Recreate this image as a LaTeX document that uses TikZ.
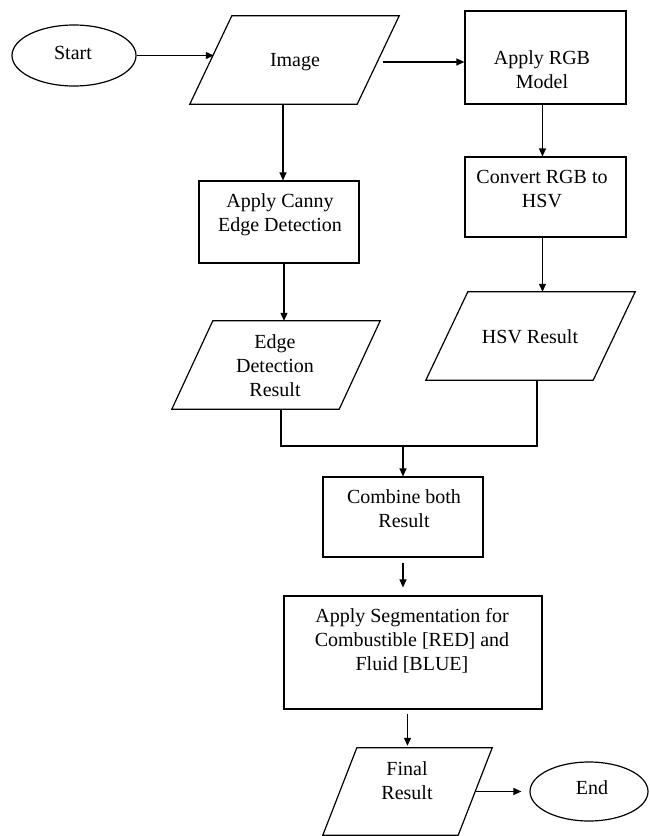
\documentclass[tikz,border=0pt]{standalone}
\usepackage{fontspec}
\setmainfont{Liberation Serif}
\usetikzlibrary{arrows.meta,shapes.geometric,calc}
\begin{document}
\begin{tikzpicture}[x=1pt,y=-1pt,
  ln/.style={line width=1.2pt, draw=black},
  arr/.style={ln, -{Triangle[length=8pt,width=7pt]}},
  box/.style={ln, rectangle, inner sep=0pt},
  oval/.style={ln, ellipse, inner sep=0pt},
  frame/.style={rectangle, inner sep=0pt, draw=none},
  txt/.style={align=center, inner sep=0pt, font=\fontsize{20}{24}\selectfont}]
\useasboundingbox (0,0) rectangle (650,836);

% shapes
\node[oval, minimum width=124pt, minimum height=61pt] (start) at (74,55.5) {};
\node[frame, minimum width=209pt, minimum height=88pt] (img) at (294.5,60) {};
\node[box, minimum width=161pt, minimum height=93pt] (rgb) at (545.5,57.5) {};
\node[box, minimum width=161pt, minimum height=80pt] (conv) at (545.5,197) {};
\node[box, minimum width=160pt, minimum height=82pt] (canny) at (279,222) {};
\node[frame, minimum width=208pt, minimum height=88pt] (edge) at (276,365) {};
\node[frame, minimum width=209pt, minimum height=88pt] (hsv) at (530.5,336) {};
\node[box, minimum width=160pt, minimum height=80pt] (comb) at (403,517) {};
\node[box, minimum width=258pt, minimum height=113pt] (seg) at (413,652.5) {};
\node[frame, minimum width=169pt, minimum height=87pt] (final) at (407.5,791.5) {};
\node[oval, minimum width=118pt, minimum height=59pt] (end) at (589,791.5) {};

% parallelogram outlines
\draw[ln] ([xshift=42pt]img.north west) -- (img.north east) -- ([xshift=-42pt]img.south east) -- (img.south west) -- cycle;
\draw[ln] ([xshift=41pt]edge.north west) -- (edge.north east) -- ([xshift=-41pt]edge.south east) -- (edge.south west) -- cycle;
\draw[ln] ([xshift=42pt]hsv.north west) -- (hsv.north east) -- ([xshift=-42pt]hsv.south east) -- (hsv.south west) -- cycle;
\draw[ln] ([xshift=34pt]final.north west) -- (final.north east) -- ([xshift=-34pt]final.south east) -- (final.south west) -- cycle;

% texts
\node[txt] (startt) at (73,53) {Start};
\node[txt] (imgt) at (295,62) {Image};
\node[txt] (rgbt) at (542,69.5) {Apply RGB\\Model};
\node[txt] (convt) at (542,189.5) {Convert RGB to\\HSV};
\node[txt] (cannyt) at (280,215) {Apply Canny\\Edge Detection};
\node[txt] (edget) at (275,366) {Edge\\Detection\\Result};
\node[txt] (hsvt) at (530,337) {HSV Result};
\node[txt] (combt) at (404,509) {Combine both\\Result};
\node[txt] (segt) at (412,641) {Apply Segmentation for\\Combustible [RED] and\\Fluid [BLUE]};
\node[txt] (finalt) at (407,781) {Final\\Result};
\node[txt] (endt) at (592,788) {End};

% connectors
\coordinate (a1) at ([xshift=24pt]img.west);
\draw[arr] (start.east) -- (start.east -| a1);
\coordinate (a2) at ([xshift=-16pt,yshift=-2pt]img.east);
\draw[arr] (a2) -- (a2 -| rgb.west);
\coordinate (a3) at ([xshift=4pt]canny.north);
\draw[arr] (a3 |- img.south) -- (a3);
\draw[arr] ([xshift=-3pt]rgb.south) -- ([xshift=-3pt]conv.north);
\coordinate (a4) at ([xshift=-3pt]conv.south);
\draw[arr] (a4) -- (a4 |- hsv.north);
\coordinate (a5) at ([xshift=5pt]canny.south);
\draw[arr] (a5) -- (a5 |- edge.north);
\coordinate (m) at (403,446);
\coordinate (a6) at ([xshift=5pt]edge.south);
\coordinate (a7) at ([xshift=6.5pt]hsv.south);
\draw[ln] (a6) |- (m) -| (a7);
\draw[arr] (m) -- (comb.north);
\coordinate (a8) at ([yshift=-5pt]comb.south);
\coordinate (a9) at ([yshift=8pt]seg.north);
\draw[arr] (a8) -- (a8 |- a9);
\coordinate (a10) at ([yshift=-4pt]seg.south);
\coordinate (a11) at ([yshift=2pt]final.north);
\draw[arr] (a10 -| a11) -- (a11);
\coordinate (a12) at ([xshift=-17pt]final.east);
\draw[arr] (a12) -- ([xshift=-8pt]end.west);
\end{tikzpicture}
\end{document}
